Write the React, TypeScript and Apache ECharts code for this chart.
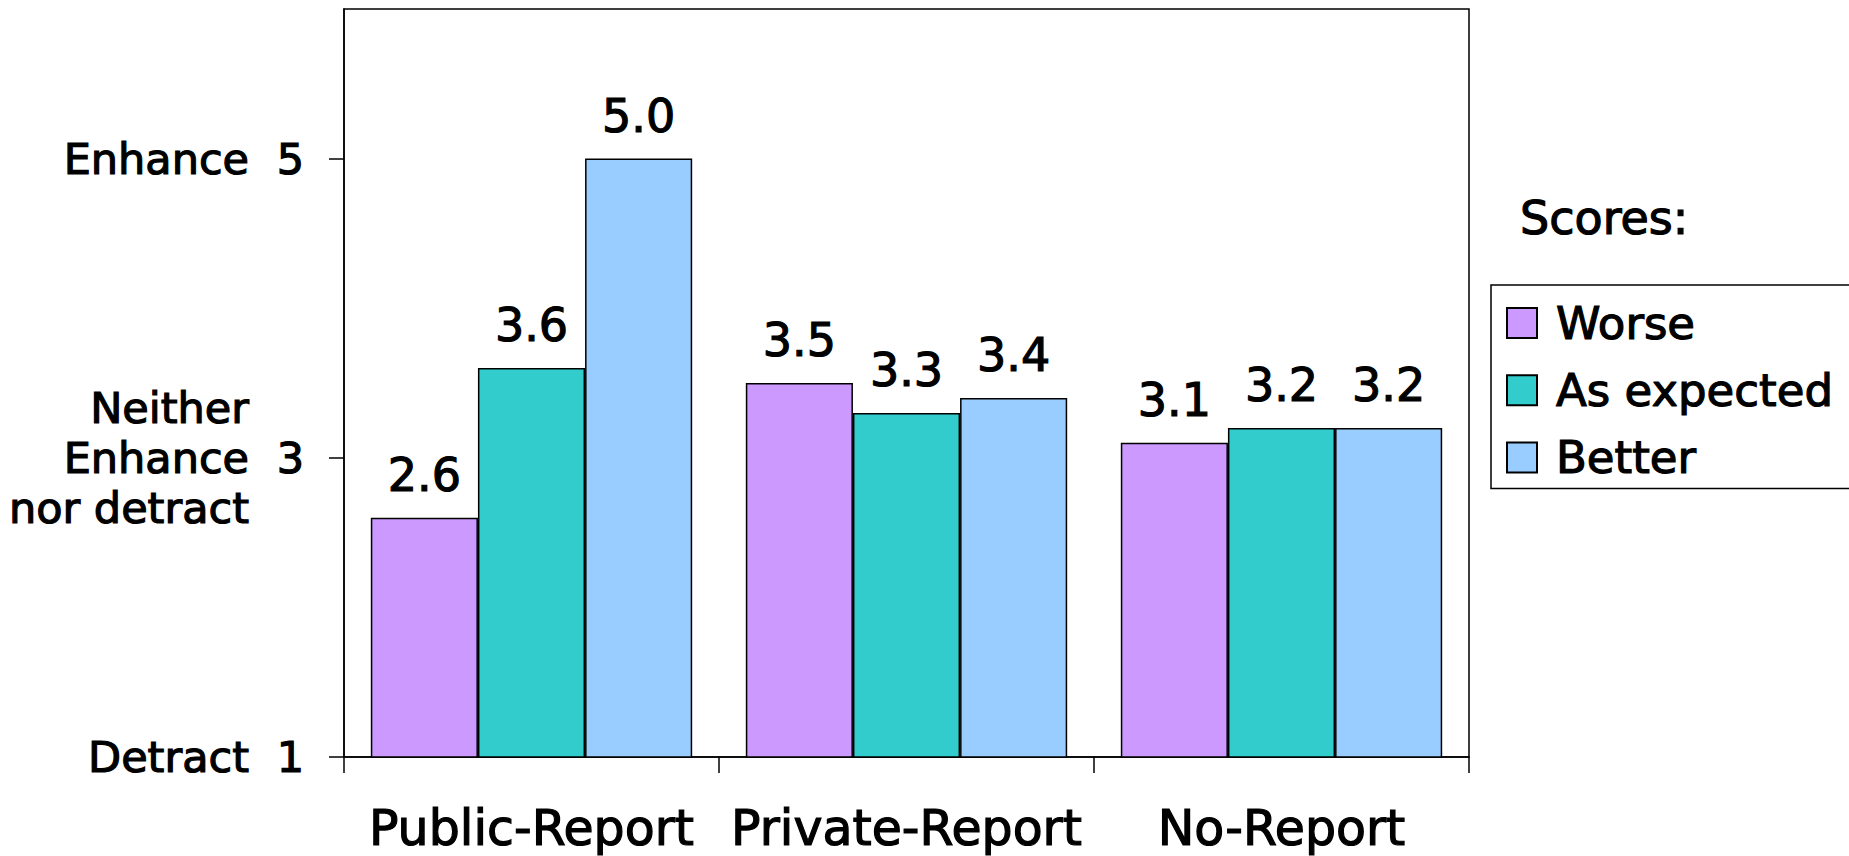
import React, { useEffect, useRef } from "react";
import * as echarts from "echarts";

// Report groups along the x axis
const categories = ["Public-Report", "Private-Report", "No-Report"];

// Mean scores per group
const worse = [2.6, 3.5, 3.1];
const asExpected = [3.6, 3.3, 3.2];
const better = [5.0, 3.4, 3.2];

// Score scale: tick values and their verbal anchors
const scoreTicks = [1, 3, 5];
const scoreAnchors = ["Detract", "Neither\nEnhance\nnor detract", "Enhance"];

const FONT = "DejaVu Sans";
const INK = "#000000";

// slightly heavier glyphs than the regular face
const heavy = { textBorderColor: INK, textBorderWidth: 1.2 };

const seriesDefs = [
  { name: "Worse", data: worse, color: "#CC99FF" },
  { name: "As expected", data: asExpected, color: "#33CCCC" },
  { name: "Better", data: better, color: "#99CCFF" },
];

function buildOption() {
  return {
    animation: false,
    backgroundColor: "#ffffff",
    title: {
      text: "Scores:",
      left: 1520,
      top: 195,
      padding: 0,
      textStyle: { fontFamily: FONT, fontSize: 46, fontWeight: "normal", color: INK, ...heavy },
    },
    legend: {
      orient: "vertical",
      left: 1491,
      top: 285,
      itemWidth: 30,
      itemHeight: 30,
      itemGap: 21,
      padding: [15, 19, 8, 15],
      borderColor: INK,
      borderWidth: 1.5,
      icon: "rect",
      textStyle: { fontFamily: FONT, fontSize: 45, color: INK, padding: [0, 0, 0, 14], ...heavy },
      data: seriesDefs.map((s) => s.name),
    },
    grid: {
      left: 344,
      right: 380,
      top: 9,
      bottom: 99,
      show: true,
      borderColor: INK,
      borderWidth: 1.5,
      backgroundColor: "transparent",
    },
    xAxis: {
      type: "category",
      data: categories,
      axisLine: { show: true, lineStyle: { color: INK, width: 1.5 } },
      axisTick: { show: true, alignWithLabel: false, length: 16, lineStyle: { color: INK, width: 1.5 } },
      axisLabel: {
        interval: 0,
        hideOverlap: false,
        fontFamily: FONT,
        fontSize: 49,
        color: INK,
        margin: 47,
        ...heavy,
      },
      splitLine: { show: false },
    },
    yAxis: [
      {
        type: "value",
        min: 1,
        max: 6,
        position: "left",
        axisLine: { show: true, lineStyle: { color: INK, width: 1.5 } },
        axisTick: { show: true, length: 15, customValues: scoreTicks, lineStyle: { color: INK, width: 1.5 } },
        axisLabel: {
          customValues: scoreTicks,
          fontFamily: FONT,
          fontSize: 43,
          color: INK,
          margin: 40,
          ...heavy,
        },
        splitLine: { show: false },
      },
      {
        type: "value",
        min: 1,
        max: 6,
        position: "left",
        axisLine: { show: false },
        axisTick: { show: false },
        axisLabel: {
          customValues: scoreTicks,
          fontFamily: FONT,
          fontSize: 43,
          lineHeight: 50,
          color: INK,
          margin: 95,
          align: "right",
          ...heavy,
          formatter: (v: number) => {
            const i = scoreTicks.indexOf(v);
            return i >= 0 ? scoreAnchors[i] : "";
          },
        },
        splitLine: { show: false },
      },
    ],
    series: seriesDefs.map((s) => ({
      name: s.name,
      type: "bar",
      yAxisIndex: 0,
      data: s.data,
      barGap: "0%",
      barCategoryGap: "14.3%",
      itemStyle: { color: s.color, borderColor: INK, borderWidth: 1.5 },
      label: {
        show: true,
        position: "top",
        distance: 20,
        fontFamily: FONT,
        fontSize: 46,
        color: INK,
        ...heavy,
        formatter: (p: any) => Number(p.value).toFixed(1),
      },
    })),
  };
}

export default function App() {
  const ref = useRef<HTMLDivElement>(null);
  useEffect(() => {
    if (!ref.current) return;
    const chart = echarts.init(ref.current, null, { renderer: "svg" });
    chart.setOption(buildOption() as any);
    return () => chart.dispose();
  }, []);
  return (
    <div
      ref={ref}
      style={{ position: "absolute", left: 0, top: 0, width: 1849, height: 856, background: "#fff" }}
    />
  );
}
